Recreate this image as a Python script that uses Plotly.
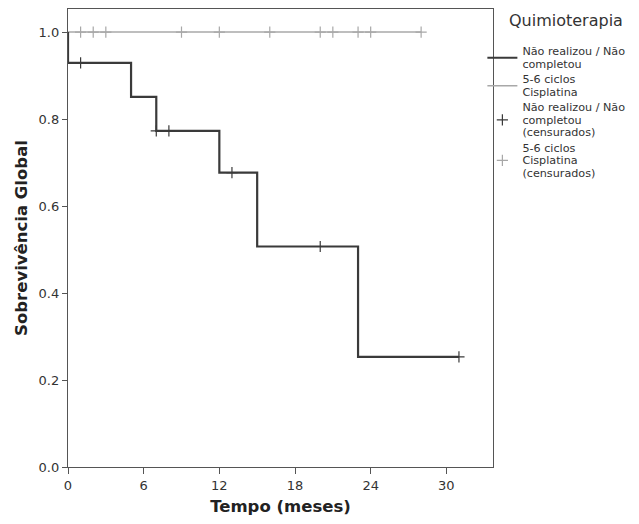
import plotly.graph_objects as go

# Data (Kaplan-Meier curves)
nao_time = [0, 0, 5, 7, 12, 15, 23, 31]
nao_surv = [1.0, 0.929, 0.851, 0.773, 0.677, 0.507, 0.253, 0.253]
nao_cens_time = [1, 7, 8, 13, 20, 31]
nao_cens_surv = [0.929, 0.773, 0.773, 0.677, 0.507, 0.253]

cis_time = [0, 28]
cis_surv = [1.0, 1.0]
cis_cens_time = [1, 2, 3, 9, 12, 16, 20, 21, 23, 24, 28]
cis_cens_surv = [1.0] * len(cis_cens_time)

x_ticks = [0, 6, 12, 18, 24, 30]
y_ticks = [0.0, 0.2, 0.4, 0.6, 0.8, 1.0]

legend_title = "Quimioterapia"
name_nao = ["Não realizou / Não", "completou"]
name_cis = ["5-6 ciclos", "Cisplatina"]
name_nao_c = ["Não realizou / Não", "completou", "(censurados)"]
name_cis_c = ["5-6 ciclos", "Cisplatina", "(censurados)"]

DARK = "#3a3a3a"
GRAY = "#a8a8a8"
FONT = "DejaVu Sans"


def lname(lines):
    return "<br>".join(f"<span style='font-size:11.2px'>{t}</span>" for t in lines)


fig = go.Figure()
fig.add_trace(go.Scatter(x=cis_time, y=cis_surv, mode="lines", line=dict(color=GRAY, width=1.6, shape="hv"),
                         name=lname(name_cis), legendrank=2))
fig.add_trace(go.Scatter(x=nao_time, y=nao_surv, mode="lines", line=dict(color=DARK, width=2.2, shape="hv"),
                         name=lname(name_nao), legendrank=1))
fig.add_trace(go.Scatter(x=nao_cens_time, y=nao_cens_surv, mode="markers",
                         marker=dict(symbol="cross-thin", size=8, line=dict(color=DARK, width=1.2)),
                         name=lname(name_nao_c), legendrank=3))
fig.add_trace(go.Scatter(x=cis_cens_time, y=cis_cens_surv, mode="markers",
                         marker=dict(symbol="cross-thin", size=8, line=dict(color=GRAY, width=1.2)),
                         name=lname(name_cis_c), legendrank=4))

fig.add_annotation(text=legend_title, xref="paper", yref="paper", x=1.033, y=1.0,
                   xanchor="left", yanchor="top", showarrow=False,
                   font=dict(size=16, color="#333333", family=FONT))

fig.update_layout(
    width=639, height=524,
    margin=dict(l=68, r=146, t=9, b=57, autoexpand=False),
    paper_bgcolor="white", plot_bgcolor="white",
    font=dict(family=FONT, color="#333333", size=12),
    showlegend=True,
    legend=dict(
        x=0.975, xanchor="left", y=0.935, yanchor="top",
        font=dict(size=9.6, color="#333333"),
        itemwidth=30, tracegroupgap=0,
        bgcolor="rgba(0,0,0,0)",
    ),
    xaxis=dict(
        range=[0, 33.7], tickvals=x_ticks, ticktext=[str(t) for t in x_ticks],
        showgrid=False, zeroline=False, showline=True, linecolor="#555555", linewidth=1.3, mirror=True,
        ticks="outside", ticklen=6, tickcolor="#555555", tickwidth=1.3, automargin=False,
        tickfont=dict(size=13, color="#333333"),
        title=dict(text="<b>Tempo (meses)</b>", font=dict(size=16.5, color="#222222"), standoff=8),
    ),
    yaxis=dict(
        range=[0, 1.053], tickvals=y_ticks, ticktext=[f"{t:.1f}" for t in y_ticks],
        showgrid=False, zeroline=False, showline=True, linecolor="#555555", linewidth=1.3, mirror=True,
        ticks="outside", ticklen=5, tickcolor="#555555", tickwidth=1.3, automargin=False,
        tickfont=dict(size=13, color="#333333"),
        title=dict(text="<b>Sobrevivência Global</b>", font=dict(size=16.5, color="#222222"), standoff=6),
    ),
)

fig.write_html("out.html", config={"displayModeBar": False},
               post_script="document.body.style.margin='0';")
